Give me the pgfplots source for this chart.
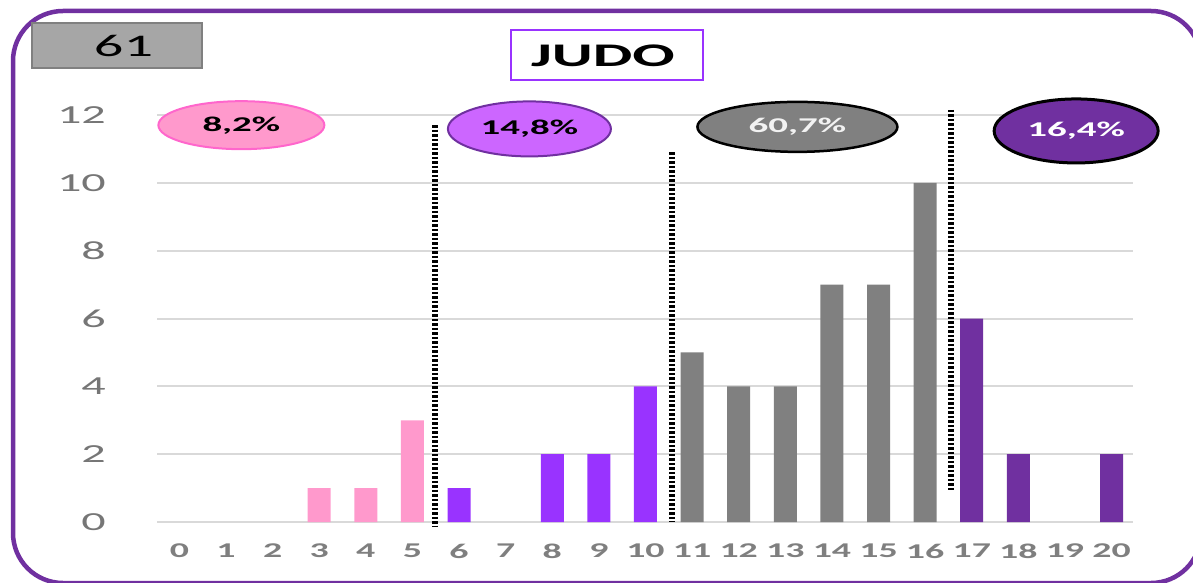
\documentclass[border=0pt]{standalone}
\usepackage{fontspec}
\setmainfont{Carlito}
\usepackage{graphicx}
\usepackage{pgfplots}
\pgfplotsset{compat=1.18}
\usetikzlibrary{shapes.geometric}
\definecolor{framec}{HTML}{7030A0}
\definecolor{box61}{HTML}{A6A6A6}
\definecolor{box61d}{HTML}{808080}
\definecolor{titlec}{HTML}{9933FF}
\definecolor{pinkbar}{HTML}{FF99CC}
\definecolor{purplebar}{HTML}{9933FF}
\definecolor{graybar}{HTML}{808080}
\definecolor{darkbar}{HTML}{7030A0}
\definecolor{gridc}{HTML}{D9D9D9}
\definecolor{xtickc}{HTML}{7F7F7F}
\definecolor{ytickc}{HTML}{767676}
\definecolor{pinkfill}{HTML}{FF99CC}
\definecolor{pinkdraw}{HTML}{FF66CC}
\definecolor{purplefill}{HTML}{CC66FF}
\newcommand{\hs}[2]{\scalebox{#1}[1]{#2}}
\begin{document}
\begin{tikzpicture}
\useasboundingbox (0,0) rectangle (1193pt,582pt);
\begin{scope}
\clip (0,0) rectangle (1193pt,582pt);
\draw[framec, line width=4.5pt, rounded corners=50pt] (13pt,-1pt) rectangle (1201pt,571pt);
\end{scope}
\node[fill=box61, draw=box61d, line width=2pt, minimum width=170pt, minimum height=45pt, inner sep=0pt] at (117pt,536.5pt) {};
\node[inner sep=0pt] at (123.5pt,536pt) {\fontsize{31.5}{33}\selectfont\hs{1.85}{61}};
\node[draw=titlec, line width=2.5pt, minimum width=192pt, minimum height=50pt, inner sep=0pt, fill=white] at (607pt,527pt) {};
\node[inner sep=0pt] at (603pt,526pt) {\fontsize{33}{35}\selectfont\bfseries\hs{1.9}{JUDO}};
\begin{axis}[
  at={(157pt,60pt)}, anchor=south west,
  scale only axis, width=976pt, height=407pt,
  xmin=-0.48, xmax=20.46, ymin=0, ymax=12,
  clip=false,
  axis line style={draw=none},
  major tick style={draw=none},
  ymajorgrids, grid style={draw=gridc, line width=2pt},
  xtick={0,1,...,20}, ytick={0,2,...,12},
  /pgf/number format/assume math mode=true,
  xticklabel={\hs{1.8}{\pgfmathprintnumber{\tick}}},
  yticklabel={\hs{1.85}{\pgfmathprintnumber{\tick}}},
  xticklabel style={font=\fontsize{21}{22}\selectfont\bfseries, text=xtickc, anchor=center, inner sep=0pt, yshift=-29pt},
  yticklabel style={font=\fontsize{26}{28}\selectfont, text=ytickc, anchor=east, inner sep=0pt, xshift=-51pt},
]
\addplot[ybar, bar width=23pt, bar shift=0pt, fill=pinkbar, draw=none] coordinates {(3,1) (4,1) (5,3)};
\addplot[ybar, bar width=23pt, bar shift=0pt, fill=purplebar, draw=none] coordinates {(6,1) (8,2) (9,2) (10,4)};
\addplot[ybar, bar width=23pt, bar shift=0pt, fill=graybar, draw=none] coordinates {(11,5) (12,4) (13,4) (14,7) (15,7) (16,10)};
\addplot[ybar, bar width=23pt, bar shift=0pt, fill=darkbar, draw=none] coordinates {(17,6) (18,2) (20,2)};
\addplot[black, line width=5.5pt, dash pattern=on 2.4pt off 2.1pt] coordinates {(5.48,11.7) (5.48,-0.15)};
\addplot[black, line width=5.5pt, dash pattern=on 2.4pt off 2.1pt] coordinates {(10.57,10.9) (10.57,0)};
\addplot[black, line width=5.5pt, dash pattern=on 2.4pt off 2.1pt] coordinates {(16.55,12.15) (16.55,0.88)};
\node[ellipse, fill=pinkfill, draw=pinkdraw, line width=2pt, minimum width=166pt, minimum height=48pt, inner sep=0pt] at (axis cs:1.33,11.70) {\fontsize{21}{22}\selectfont\bfseries\hs{1.85}{8,2\%}};
\node[ellipse, fill=purplefill, draw=darkbar, line width=2pt, minimum width=163pt, minimum height=55pt, inner sep=0pt] at (axis cs:7.51,11.59) {\fontsize{21}{22}\selectfont\bfseries\hs{1.85}{14,8\%}};
\node[ellipse, fill=graybar, draw=black, line width=2.5pt, minimum width=200pt, minimum height=50pt, inner sep=0pt, text=white!95!black] at (axis cs:13.26,11.65) {\fontsize{21}{22}\selectfont\bfseries\hs{1.85}{60,7\%}};
\node[ellipse, fill=darkbar, draw=black, line width=3pt, minimum width=164pt, minimum height=64pt, inner sep=0pt, text=white] at (axis cs:19.24,11.53) {\fontsize{21}{22}\selectfont\bfseries\hs{1.85}{16,4\%}};
\end{axis}
\end{tikzpicture}
\end{document}
